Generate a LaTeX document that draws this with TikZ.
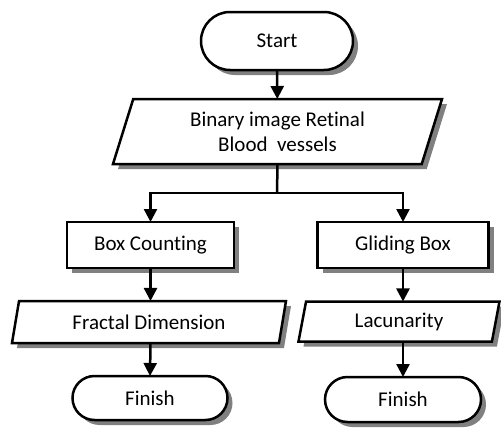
\documentclass[tikz,border=0pt]{standalone}
\usepackage{fontspec}
\setmainfont{Carlito}[Ligatures=NoCommon]
\usetikzlibrary{shapes.geometric,shapes.misc,shadows,arrows.meta}
\tikzset{
  base/.style={draw=black, line width=2.5pt, fill=white, align=center, inner sep=0pt, outer sep=0pt,
    font=\fontsize{21}{25}\selectfont,
    drop shadow={fill=black!50, opacity=1, shadow xshift=5pt, shadow yshift=-5pt}},
  term/.style={base, rounded rectangle},
  proc/.style={base, rectangle},
  io/.style={base, trapezium, trapezium stretches body},
  conn/.style={line width=2.5pt, -{Triangle[length=13pt,width=13pt]}},
  plain/.style={line width=2.5pt}
}
\begin{document}
\begin{tikzpicture}[x=1pt,y=-1pt]
\useasboundingbox (0,0) rectangle (501,431);
\node[term, minimum width=152pt, minimum height=58pt] (start) at (277,41) {Start};
\node[io, trapezium left angle=63, trapezium right angle=117, minimum width=329pt, minimum height=65pt] (bin) at (277.5,131.5) {Binary image Retinal\\Blood\ \ vessels};
\coordinate (split) at (277,193);
\node[proc, minimum width=167pt, minimum height=46pt] (bc) at (150.5,245) {Box Counting};
\node[proc, minimum width=171pt, minimum height=46pt] (gb) at (403,245) {Gliding Box};
\node[io, trapezium left angle=64.5, trapezium right angle=115.5, minimum width=274pt, minimum height=42pt] (fd) at (149,322) {Fractal Dimension};
\node[io, trapezium left angle=67, trapezium right angle=113, minimum width=201pt, minimum height=40pt] (lac) at (399,321.5) {Lacunarity};
\node[term, minimum width=155pt, minimum height=44pt] (f1) at (150,398) {Finish};
\node[term, minimum width=156pt, minimum height=45pt] (f2) at (403,399.5) {Finish};
\draw[conn] (start) -- (bin);
\draw[plain] (bin.south) -- (split);
\draw[conn] (split) -| (bc.north);
\draw[conn] (split) -| (gb.north);
\draw[conn] (bc.south) -- (bc.south |- fd.north);
\draw[conn] (bc.south |- fd.south) -- (f1.north);
\draw[conn] (gb.south) -- (gb.south |- lac.north);
\draw[conn] (gb.south |- lac.south) -- (f2.north);
\end{tikzpicture}
\end{document}
